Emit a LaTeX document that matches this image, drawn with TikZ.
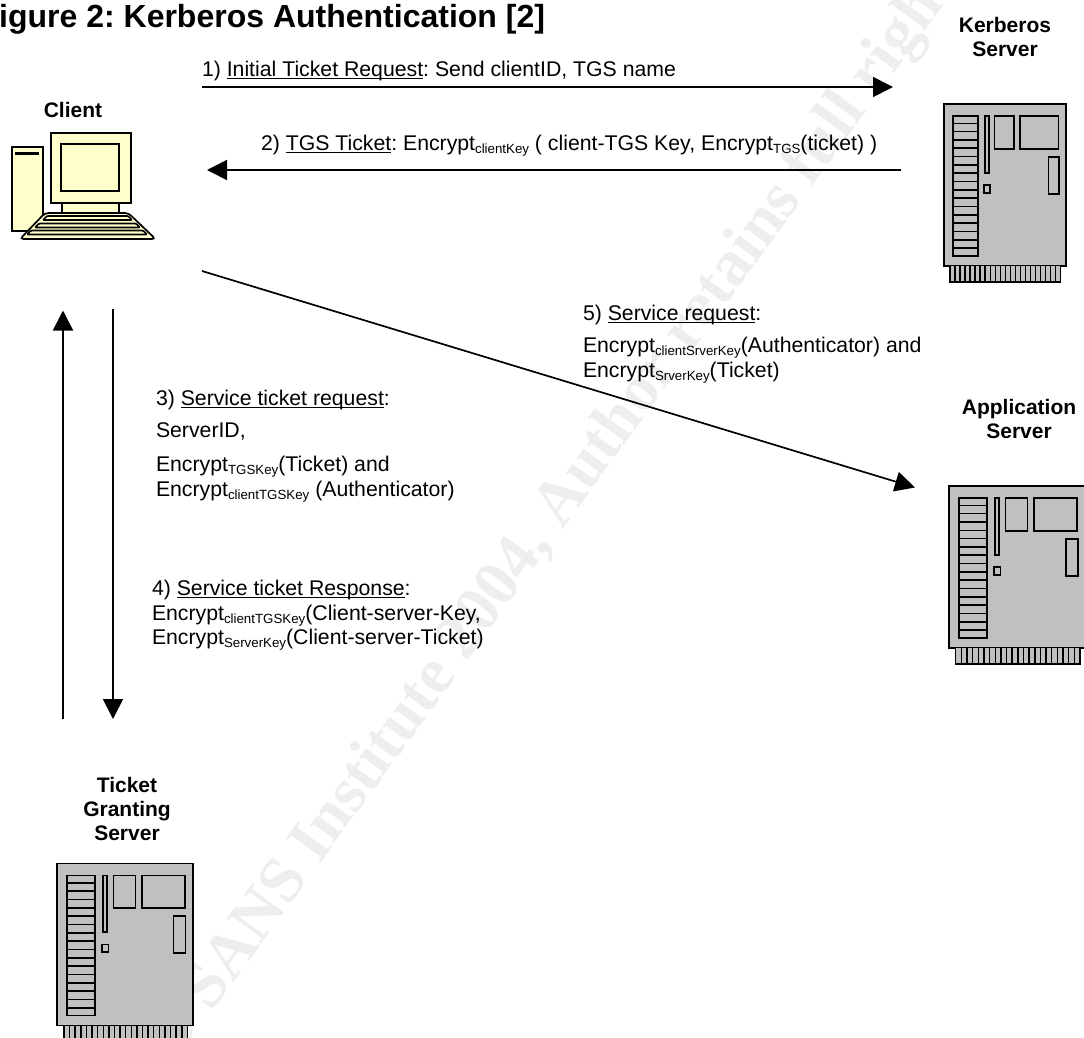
\documentclass[tikz,border=0pt]{standalone}
\usepackage{fontspec}
\setmainfont{Liberation Sans}
\newfontfamily\wmfont{Liberation Serif}
\usetikzlibrary{arrows.meta}
\definecolor{cream}{HTML}{FFFFCC}
\definecolor{srvgray}{HTML}{C0C0C0}
\definecolor{wm}{HTML}{EEEEEE}
\frenchspacing
\newlength\ulwidth
\newcommand{\lbl}{\fontsize{21.25}{24}\selectfont}
\newcommand{\sbs}[1]{\raisebox{-3pt}{\fontsize{13.3}{15}\selectfont #1}}
\newcommand{\ul}[1]{\settowidth{\ulwidth}{#1}\rlap{\rule[-3.4pt]{\ulwidth}{1.3pt}}#1}
\tikzset{
 x=1pt,y=-1pt,
 flow/.style={line width=1.7pt,-{Triangle[length=20pt,width=20pt]}},
 lab/.style={anchor=base west,inner sep=0pt,outer sep=0pt,font=\lbl},
 head/.style={align=center,inner sep=0pt,font=\bfseries\fontsize{21}{24}\selectfont},
 part/.style={draw=black,line width=1.6pt},
 srvbody/.style={draw=black,line width=1.7pt,fill=srvgray},
 pics/server/.style={code={
   \draw[srvbody] (0,0) rectangle (122,162);
   \draw[part] (8.7,12) rectangle (33.7,152);
   \foreach \i in {0,...,15}{\draw[part] (8.7,19.3+\i*8.33) -- (34.5,19.3+\i*8.33);}
   \draw[part] (41,12) rectangle (44.7,68.7);
   \draw[part] (50.3,12) rectangle (70,44.7);
   \draw[part] (76,12) rectangle (114.3,44.7);
   \draw[part] (104.3,52.7) rectangle (115,89.7);
   \draw[part] (40,81) rectangle (46,88.7);
   \fill[srvgray] (6,162) rectangle (116.7,178);
   \draw[line width=1.3pt] (6,162) -- (6,178) -- (116.7,178) -- (116.7,162);
   \foreach \i in {1,...,21}{\draw[line width=1.5pt] (6+\i*5.03,162) -- (6+\i*5.03,178);}
 }}
}
\begin{document}
\begin{tikzpicture}
\useasboundingbox (0,0) rectangle (1084,1037);
% watermark
\begin{scope}
\clip (0,0) rectangle (1084,1037);
\node[rotate=54,text=wm,inner sep=0pt,font=\wmfont\bfseries\fontsize{65}{70}\selectfont] (mark) at (565,500) {© SANS Institute 2004, Author retains full rights.};
\end{scope}
% title
\node[anchor=base west,inner sep=0pt,font=\bfseries\fontsize{32}{36}\selectfont] (title) at (-1,27) {igure 2: Kerberos Authentication [2]};
% client
\node[head,anchor=base] (clientlabel) at (73,117) {Client};
\begin{scope}[line width=1.7pt]
 \draw[fill=cream] (11.7,146.7) rectangle (42.7,231);
 \draw[line width=2.6pt] (15,153.3) -- (39.3,153.3);
 \draw[fill=cream] (50.7,132.7) rectangle (131,203.3);
 \draw[fill=cream] (61.3,144.3) rectangle (119.3,191.3);
 \draw[fill=cream] (61.7,203.3) rectangle (119,213);
 \draw[fill=cream,rounded corners=3.5pt] (45,213) -- (128.3,213) -- (155.5,239) -- (20,239) -- cycle;
 \draw[rounded corners=1pt] (47,216) -- (128,216) -- (132,220) -- (43,220) -- cycle;
 \draw[rounded corners=1pt] (39,223.5) -- (136,223.5) -- (140,227.5) -- (35,227.5) -- cycle;
 \draw[rounded corners=1pt] (31,230.5) -- (143,230.5) -- (147,234.5) -- (27,234.5) -- cycle;
\end{scope}
% servers
\node[head] (kerblabel) at (1005,37) {Kerberos\\Server};
\pic at (944,104) {server};
\node[head] (applabel) at (1019,418.5) {Application\\Server};
\pic[xscale=1.122] at (949,486) {server};
\node[head] (tgslabel) at (127,808.5) {Ticket\\Granting\\Server};
\pic[xscale=1.115] at (57.3,863.5) {server};
% connector ends
\coordinate (a1) at (202,87); \coordinate (b1) at (893,87);
\coordinate (a2) at (901,170); \coordinate (b2) at (207,170);
\coordinate (a5) at (202,271); \coordinate (b5) at (915,487.5);
\coordinate (a3) at (113,309); \coordinate (b3) at (113,719);
\coordinate (a4) at (63,719); \coordinate (b4) at (63,310.5);
\draw[flow] (a1) -- (b1);
\draw[flow] (a2) -- (b2);
\draw[flow] (a5) -- (b5);
\draw[flow] (a3) -- (b3);
\draw[flow] (a4) -- (b4);
% labels
\node[lab] (l1) at (202,76) {1) \ul{Initial Ticket Request}: Send clientID, TGS name};
\node[lab] (l2) at (261,150) {2) \ul{TGS Ticket}: Encrypt\sbs{clientKey} ( client-TGS Key, Encrypt\sbs{TGS}(ticket) )};
\node[lab] (l3a) at (156,405) {3) \ul{Service ticket request}:};
\node[lab] (l3b) at (156,437) {ServerID,};
\node[lab] (l3c) at (156,471) {Encrypt\sbs{TGSKey}(Ticket) and};
\node[lab] (l3d) at (156,496) {Encrypt\sbs{clientTGSKey} (Authenticator)};
\node[lab] (l4a) at (152,595) {4) \ul{Service ticket Response}:};
\node[lab] (l4b) at (152,620) {Encrypt\sbs{clientTGSKey}(Client-server-Key,};
\node[lab] (l4c) at (152,644) {Encrypt\sbs{ServerKey}(Client-server-Ticket)};
\node[lab] (l5a) at (583,320) {5) \ul{Service request}:};
\node[lab] (l5b) at (583,352) {Encrypt\sbs{clientSrverKey}(Authenticator) and};
\node[lab] (l5c) at (583,377) {Encrypt\sbs{SrverKey}(Ticket)};
\end{tikzpicture}
\end{document}
